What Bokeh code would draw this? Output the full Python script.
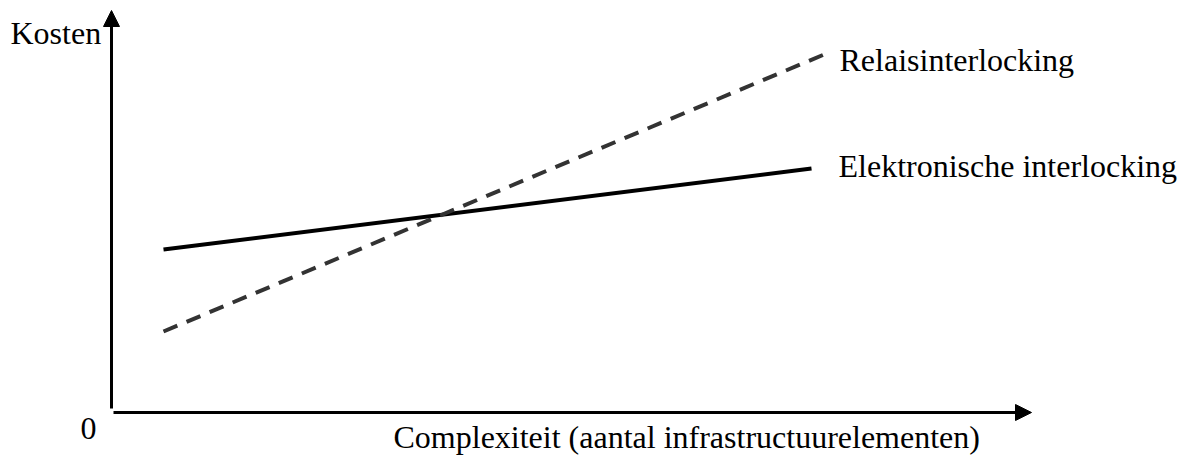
from bokeh.plotting import figure
from bokeh.models import Range1d, Arrow, NormalHead, ColumnDataSource
from bokeh.core.properties import value
from bokeh.embed import file_html
from bokeh.resources import INLINE

# Data (conceptual cost vs complexity)
complexity_elek = [51, 699]
cost_elek = [162, 243]
complexity_relais = [51, 714]
cost_relais = [80, 358]

label_names = ["Relaisinterlocking", "Elektronische interlocking"]
y_title = "Kosten"
x_title = "Complexiteit (aantal infrastructuurelementen)"
origin_label = "0"

FONT = value("Liberation Serif")

p = figure(width=1179, height=457, output_backend="svg", toolbar_location=None,
           x_range=Range1d(-112, 1067), y_range=Range1d(-46, 411),
           min_border=0, outline_line_color=None)
p.axis.visible = False
p.grid.visible = False
p.background_fill_color = "white"
p.border_fill_color = "white"

# axes with arrows
p.add_layout(Arrow(end=NormalHead(size=16, fill_color="black", line_color="black"),
                   x_start=-1, y_start=3, x_end=-1, y_end=401,
                   line_width=3, line_color="black"))
p.add_layout(Arrow(end=NormalHead(size=16, fill_color="black", line_color="black"),
                   x_start=1, y_start=-1, x_end=919, y_end=-1,
                   line_width=3, line_color="black"))

# series
p.line(complexity_elek, cost_elek, line_width=4, line_color="black")
p.line(complexity_relais, cost_relais, line_width=4, line_color="#333333",
       line_dash="15 10")

# labels
src = ColumnDataSource(dict(
    x=[727, 726, -102, -32, 281],
    y=[352, 246, 379, -17, -25],
    t=[label_names[0], label_names[1], y_title, origin_label, x_title],
))
p.text(x="x", y="y", text="t", source=src, text_font=FONT,
       text_font_size="32px", text_color="black",
       text_baseline="alphabetic", text_align="left")

open("out.html", "w").write(file_html(p, INLINE))
